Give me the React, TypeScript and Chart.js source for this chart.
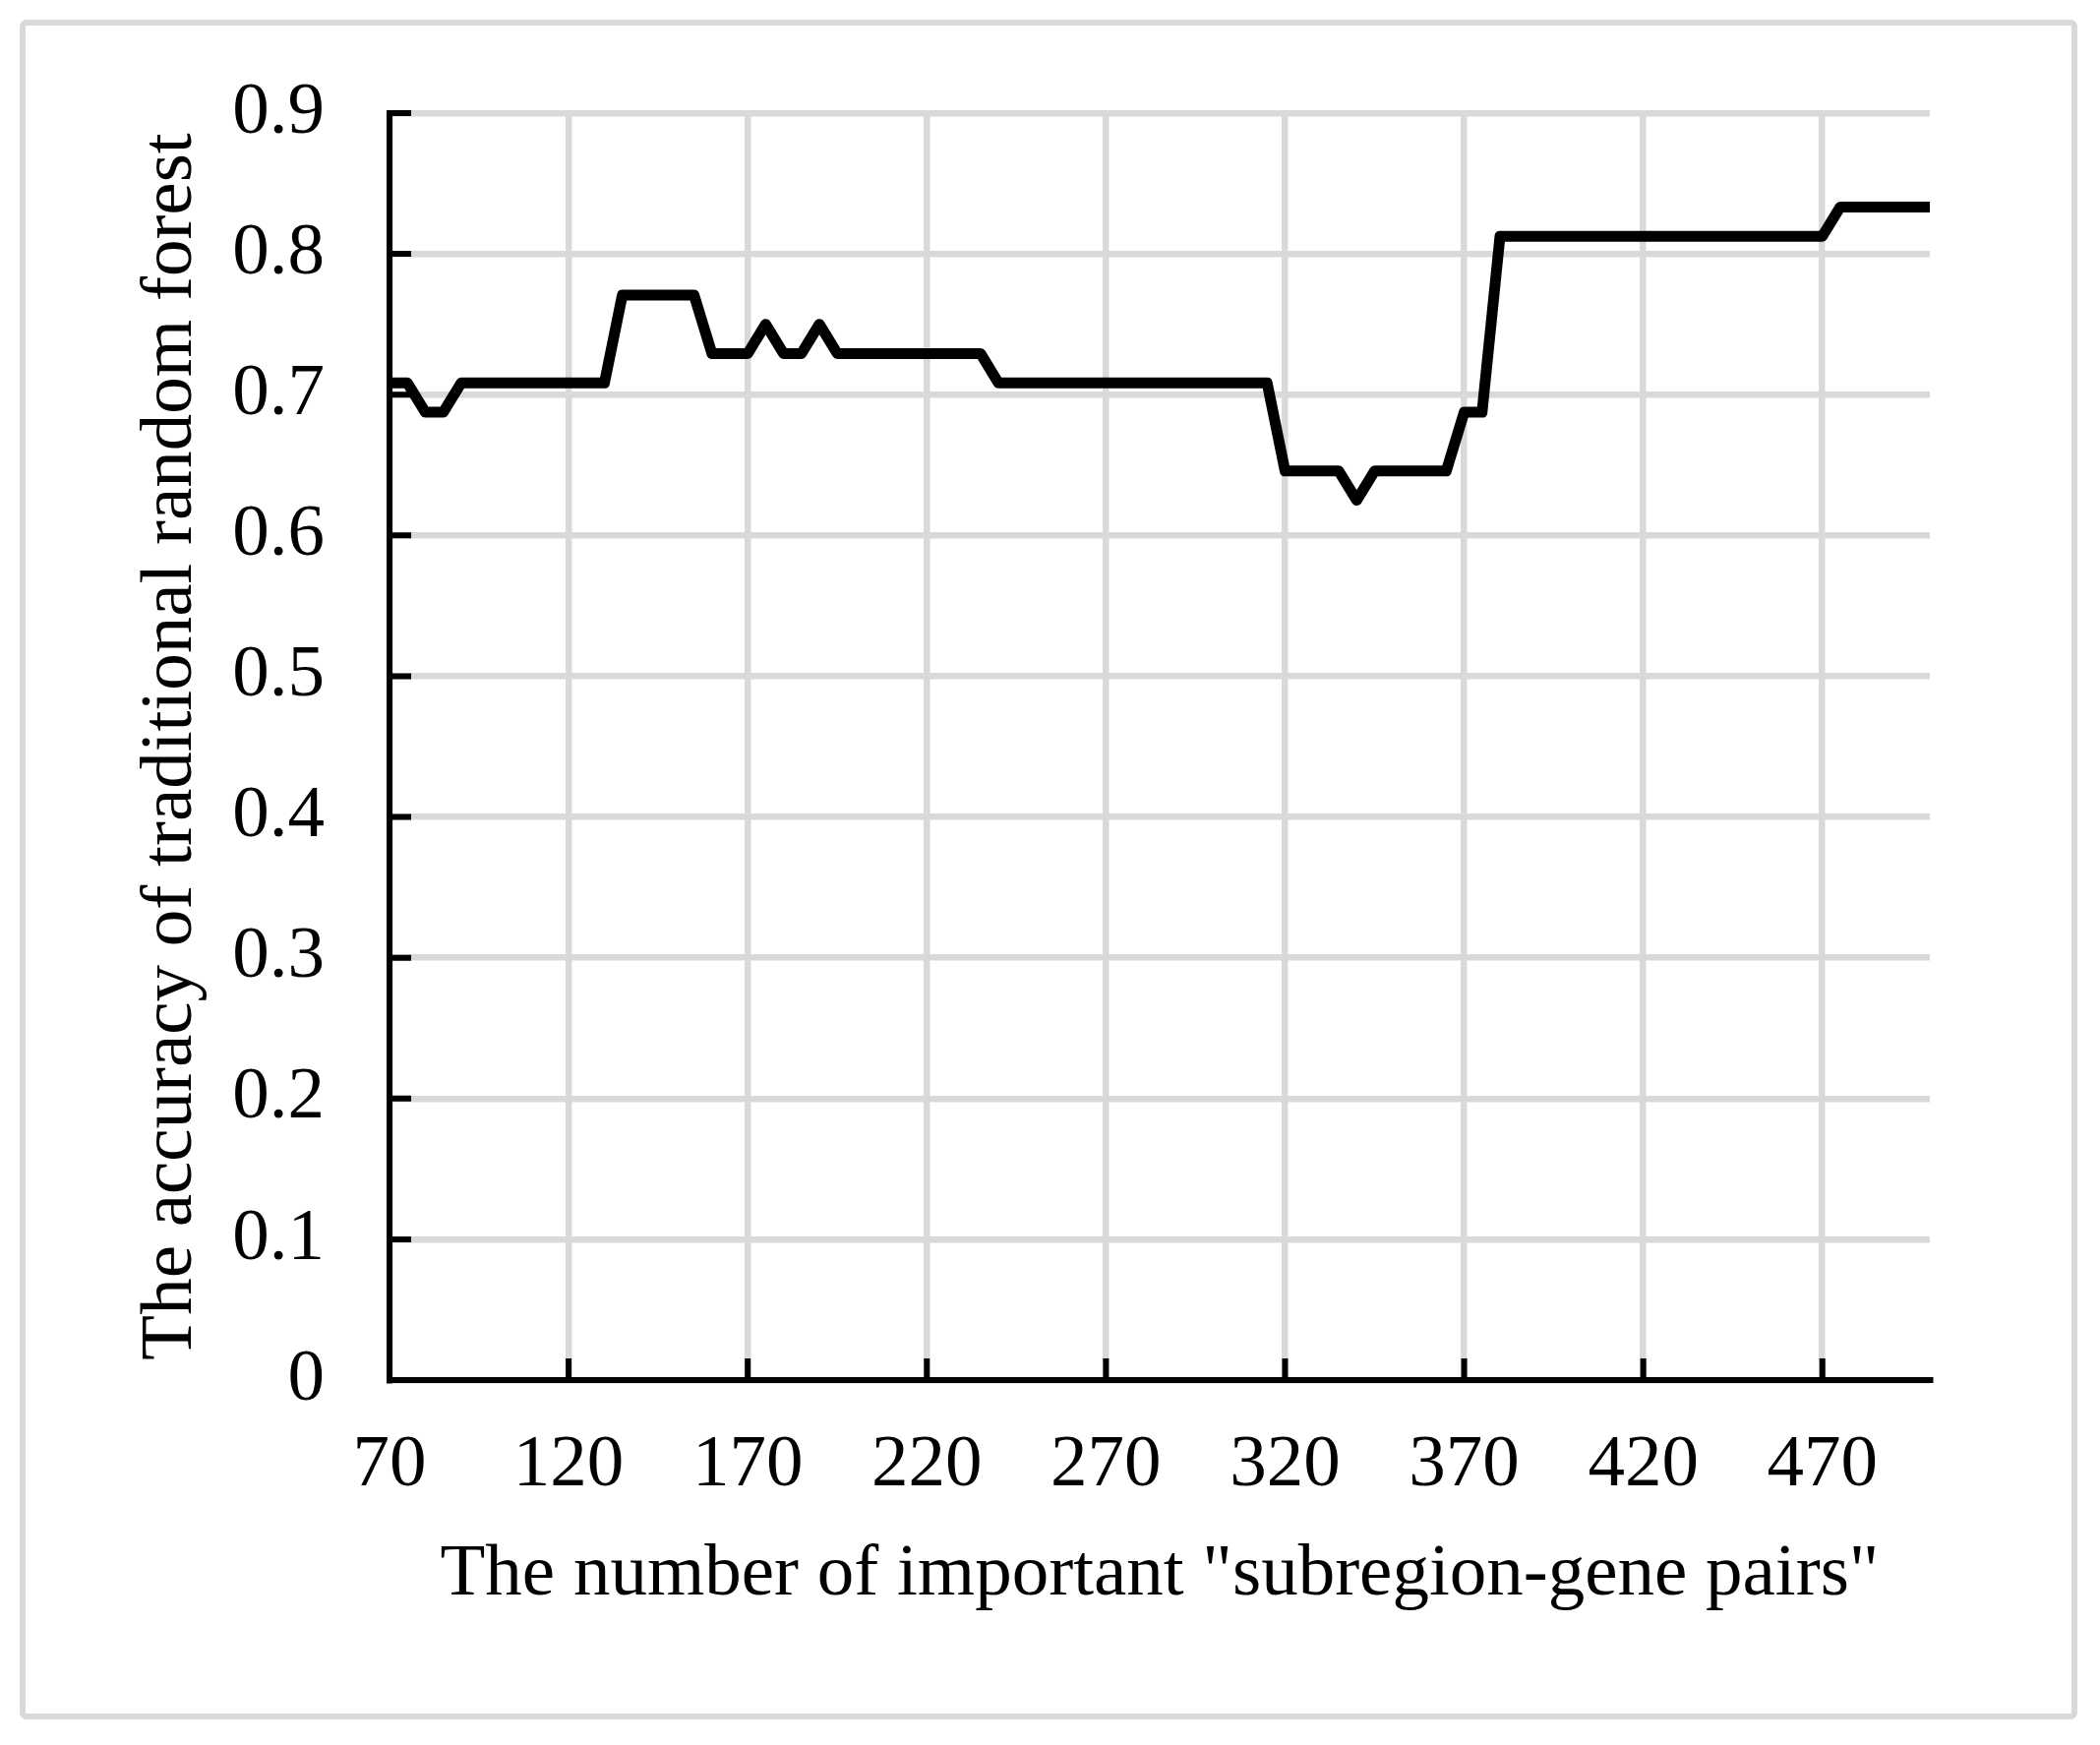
import React, { useEffect, useRef } from "react";
import { Chart, registerables } from "chart.js";

Chart.register(...registerables);

// Number of important "subregion-gene pairs"
const pairCounts = [
  70, 75, 80, 85, 90, 95, 100, 105, 110, 115,
  120, 125, 130, 135, 140, 145, 150, 155, 160, 165,
  170, 175, 180, 185, 190, 195, 200, 205, 210, 215,
  220, 225, 230, 235, 240, 245, 250, 255, 260, 265,
  270, 275, 280, 285, 290, 295, 300, 305, 310, 315,
  320, 325, 330, 335, 340, 345, 350, 355, 360, 365,
  370, 375, 380, 385, 390, 395, 400, 405, 410, 415,
  420, 425, 430, 435, 440, 445, 450, 455, 460, 465,
  470, 475, 480, 485, 490, 495, 500,
];

// Accuracy of traditional random forest
const accuracy = [
  0.7083, 0.7083, 0.6875, 0.6875, 0.7083, 0.7083, 0.7083, 0.7083, 0.7083, 0.7083,
  0.7083, 0.7083, 0.7083, 0.7708, 0.7708, 0.7708, 0.7708, 0.7708, 0.7292, 0.7292,
  0.7292, 0.75, 0.7292, 0.7292, 0.75, 0.7292, 0.7292, 0.7292, 0.7292, 0.7292,
  0.7292, 0.7292, 0.7292, 0.7292, 0.7083, 0.7083, 0.7083, 0.7083, 0.7083, 0.7083,
  0.7083, 0.7083, 0.7083, 0.7083, 0.7083, 0.7083, 0.7083, 0.7083, 0.7083, 0.7083,
  0.6458, 0.6458, 0.6458, 0.6458, 0.625, 0.6458, 0.6458, 0.6458, 0.6458, 0.6458,
  0.6875, 0.6875, 0.8125, 0.8125, 0.8125, 0.8125, 0.8125, 0.8125, 0.8125, 0.8125,
  0.8125, 0.8125, 0.8125, 0.8125, 0.8125, 0.8125, 0.8125, 0.8125, 0.8125, 0.8125,
  0.8125, 0.8333, 0.8333, 0.8333, 0.8333, 0.8333, 0.8333,
];

const xTickValues = [70, 120, 170, 220, 270, 320, 370, 420, 470];
const yTickValues = [0, 0.1, 0.2, 0.3, 0.4, 0.5, 0.6, 0.7, 0.8, 0.9];

const xTitle = 'The number of important "subregion-gene pairs"';
const yTitle = "The accuracy of traditional random forest";

const FONT = "'Liberation Serif', 'Times New Roman', serif";
const FONT_SIZE = 75;

const framePlugin = {
  id: "frame",
  beforeDraw(chart: any) {
    const ctx = chart.ctx;
    ctx.save();
    ctx.fillStyle = "#ffffff";
    ctx.fillRect(0, 0, chart.width, chart.height);
    ctx.strokeStyle = "#d9d9d9";
    ctx.lineWidth = 6;
    ctx.beginPath();
    if (ctx.roundRect) ctx.roundRect(23, 23, 2086, 1722, 4);
    else ctx.rect(23, 23, 2086, 1722);
    ctx.stroke();
    ctx.restore();
  },
};

const innerTicksPlugin = {
  id: "innerTicks",
  beforeDatasetsDraw(chart: any) {
    const { ctx, chartArea, scales } = chart;
    const len = 22;
    ctx.save();
    ctx.strokeStyle = "#000000";
    ctx.lineWidth = 6;
    ctx.beginPath();
    scales.x.ticks.forEach((t: any) => {
      const px = scales.x.getPixelForValue(t.value);
      ctx.moveTo(px, chartArea.bottom + 3);
      ctx.lineTo(px, chartArea.bottom - len);
    });
    scales.y.ticks.forEach((t: any) => {
      const py = scales.y.getPixelForValue(t.value);
      ctx.moveTo(chartArea.left - 3, py);
      ctx.lineTo(chartArea.left + len, py);
    });
    ctx.stroke();
    ctx.restore();
  },
};

export default function App() {
  const canvasRef = useRef<HTMLCanvasElement | null>(null);

  useEffect(() => {
    const canvas = canvasRef.current;
    if (!canvas) return;
    const points = pairCounts.map((x, i) => ({ x, y: accuracy[i] }));

    const chart = new Chart(canvas, {
      type: "line",
      data: {
        datasets: [
          {
            data: points,
            borderColor: "#000000",
            borderWidth: 11,
            pointRadius: 0,
            tension: 0,
            borderCapStyle: "round",
            borderJoinStyle: "round",
            fill: false,
          },
        ],
      },
      options: {
        animation: false,
        responsive: false,
        devicePixelRatio: 1,
        layout: { padding: { left: 0, top: 115, right: 173, bottom: 0 } },
        plugins: {
          legend: { display: false },
          tooltip: { enabled: false },
          title: { display: false },
        },
        scales: {
          x: {
            type: "linear",
            min: 70,
            max: 500,
            afterBuildTicks: (scale: any) => {
              scale.ticks = xTickValues.map((v) => ({ value: v }));
            },
            afterFit: (scale: any) => {
              scale.height = 371;
            },
            ticks: {
              autoSkip: false,
              maxRotation: 0,
              minRotation: 0,
              padding: 42,
              color: "#000000",
              font: { family: FONT, size: FONT_SIZE },
              callback: (v: any) => String(v),
            },
            grid: { color: "#d9d9d9", lineWidth: 6.5, drawTicks: false },
            border: { display: true, color: "#000000", width: 6 },
            title: {
              display: true,
              text: xTitle,
              color: "#000000",
              font: { family: FONT, size: FONT_SIZE },
              padding: { top: 0, bottom: 128 },
            },
          },
          y: {
            type: "linear",
            min: 0,
            max: 0.9,
            afterBuildTicks: (scale: any) => {
              scale.ticks = yTickValues.map((v) => ({ value: v }));
            },
            afterFit: (scale: any) => {
              scale.width = 396;
            },
            ticks: {
              padding: 66,
              color: "#000000",
              font: { family: FONT, size: FONT_SIZE },
              callback: (v: any) => (v === 0 ? "0" : Number(v).toFixed(1)),
            },
            grid: { color: "#d9d9d9", lineWidth: 6.5, drawTicks: false },
            border: { display: true, color: "#000000", width: 6 },
            title: {
              display: true,
              text: yTitle,
              color: "#000000",
              font: { family: FONT, size: FONT_SIZE },
              padding: { top: 129, bottom: 0 },
            },
          },
        },
      },
      plugins: [framePlugin, innerTicksPlugin],
    });

    return () => {
      chart.destroy();
    };
  }, []);

  return (
    <div style={{ position: "fixed", left: 0, top: 0, width: 2135, height: 1774, background: "#ffffff" }}>
      <canvas ref={canvasRef} width={2135} height={1774} style={{ display: "block", width: 2135, height: 1774 }} />
    </div>
  );
}
